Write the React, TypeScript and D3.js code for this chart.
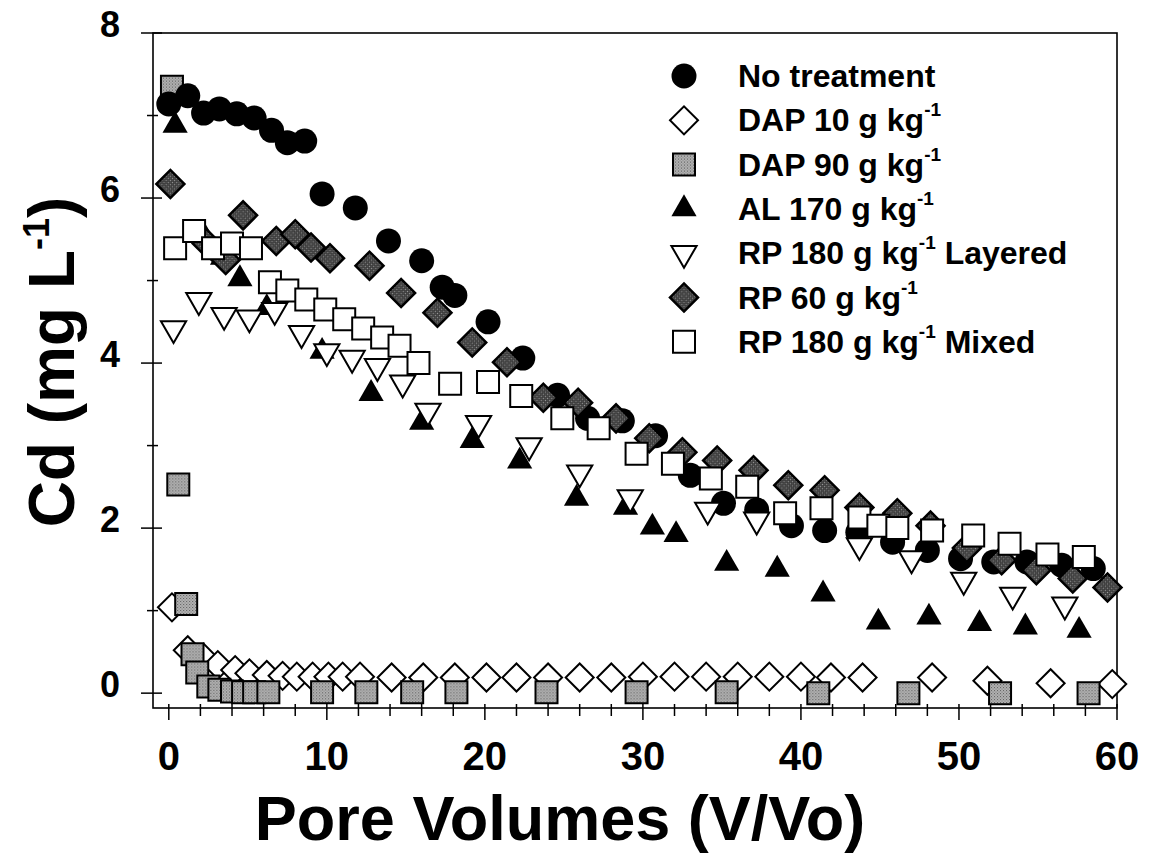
import React from 'react';
import * as d3 from 'd3';

// Cd breakthrough data (x = pore volumes, y = Cd mg/L)
const noTreatX = [0, 1.2, 2.2, 3.2, 4.3, 5.4, 6.5, 7.5, 8.6, 9.7, 11.8, 13.9, 16.0, 17.3, 18.1, 20.2, 22.4, 24.6, 26.5, 28.7, 30.8, 33.0, 35.1, 37.2, 39.4, 41.5, 43.6, 45.8, 48.0, 50.1, 52.2, 54.3, 56.5, 58.5];
const noTreatY = [7.14, 7.24, 7.03, 7.08, 7.02, 6.97, 6.82, 6.67, 6.69, 6.05, 5.88, 5.48, 5.24, 4.92, 4.82, 4.5, 4.06, 3.61, 3.33, 3.3, 3.12, 2.64, 2.3, 2.22, 2.03, 1.97, 1.95, 1.83, 1.73, 1.63, 1.59, 1.59, 1.55, 1.51];

const dap10X = [0.2, 1.2, 2.2, 3.1, 4.2, 5.1, 6.2, 7.2, 8.1, 9.1, 10.1, 11.0, 12.1, 14.1, 16.1, 18.1, 20.1, 22.0, 24.0, 26.0, 28.0, 30.0, 32.0, 34.0, 36.0, 38.0, 40.0, 41.9, 43.9, 48.3, 51.8, 55.8, 59.7];
const dap10Y = [1.04, 0.52, 0.43, 0.34, 0.28, 0.24, 0.22, 0.21, 0.2, 0.2, 0.2, 0.2, 0.2, 0.19, 0.19, 0.19, 0.19, 0.19, 0.19, 0.19, 0.19, 0.2, 0.2, 0.2, 0.2, 0.2, 0.2, 0.19, 0.19, 0.19, 0.15, 0.12, 0.11];

const dap90X = [0.2, 0.6, 1.1, 1.5, 1.8, 2.5, 3.2, 4.0, 4.7, 5.4, 6.3, 9.7, 12.5, 15.4, 18.2, 23.9, 29.6, 35.3, 41.1, 46.8, 52.6, 58.2];
const dap90Y = [7.35, 2.53, 1.08, 0.47, 0.25, 0.08, 0.04, 0.02, 0.01, 0.01, 0.01, 0.01, 0.01, 0.01, 0.01, 0.01, 0.01, 0.01, 0.0, 0.0, 0.0, 0.0];

const al170X = [0.4, 2.2, 3.4, 4.5, 6.2, 9.7, 12.8, 16.0, 19.2, 22.2, 25.8, 28.9, 30.6, 32.1, 35.3, 38.5, 41.4, 44.9, 48.1, 51.3, 54.2, 57.6];
const al170Y = [6.88, 5.55, 5.28, 5.02, 4.67, 4.14, 3.63, 3.28, 3.06, 2.81, 2.36, 2.25, 2.01, 1.92, 1.57, 1.5, 1.2, 0.86, 0.92, 0.84, 0.8, 0.76];

const layeredX = [0.3, 1.9, 3.5, 5.1, 6.7, 8.4, 10.0, 11.6, 13.2, 14.8, 16.4, 19.6, 22.8, 26.0, 29.2, 34.1, 37.2, 43.7, 47.0, 50.3, 53.4, 56.7];
const layeredY = [4.42, 4.76, 4.58, 4.55, 4.64, 4.36, 4.14, 4.06, 3.96, 3.76, 3.42, 3.27, 3.0, 2.67, 2.37, 2.22, 2.1, 1.79, 1.63, 1.37, 1.19, 1.07];

const rp60X = [0.1, 2.4, 3.6, 4.7, 6.8, 8.0, 9.0, 10.2, 12.7, 14.7, 17.0, 19.2, 21.4, 23.7, 25.9, 28.3, 30.4, 32.5, 34.7, 37.0, 39.2, 41.5, 43.7, 46.1, 48.2, 50.5, 52.7, 54.9, 57.2, 59.4];
const rp60Y = [6.17, 5.45, 5.25, 5.79, 5.48, 5.56, 5.4, 5.27, 5.18, 4.85, 4.61, 4.25, 4.01, 3.58, 3.52, 3.33, 3.09, 2.92, 2.82, 2.7, 2.52, 2.46, 2.25, 2.18, 2.03, 1.76, 1.61, 1.49, 1.39, 1.28];

const mixedX = [0.4, 1.6, 2.8, 4.0, 5.2, 6.4, 7.5, 8.7, 9.9, 11.1, 12.3, 13.5, 14.6, 15.8, 17.8, 20.2, 22.3, 24.9, 27.2, 29.6, 31.9, 34.3, 36.6, 39.0, 41.3, 43.7, 44.9, 46.1, 48.3, 50.9, 53.2, 55.6, 57.9];
const mixedY = [5.39, 5.6, 5.39, 5.45, 5.39, 4.98, 4.88, 4.77, 4.65, 4.53, 4.42, 4.31, 4.21, 4.0, 3.75, 3.77, 3.6, 3.33, 3.21, 2.9, 2.78, 2.6, 2.5, 2.18, 2.24, 2.13, 2.03, 2.0, 1.97, 1.91, 1.81, 1.68, 1.65];

const xTickValues = d3.range(0, 61, 2);
const xTickLabels = [0, 10, 20, 30, 40, 50, 60];
const yTickValues = d3.range(0, 9, 1);
const yTickLabels = [0, 2, 4, 6, 8];

const legendNames = ['No treatment', 'DAP 10 g kg', 'DAP 90 g kg', 'AL 170 g kg', 'RP 180 g kg', 'RP 60 g kg', 'RP 180 g kg'];
const legendTails = ['', '', '', '', ' Layered', '', ' Mixed'];
const legendSup = [false, true, true, true, true, true, true];

const FONT = '"Liberation Sans", Arial, Helvetica, sans-serif';

type Shape = 'circle' | 'diamond' | 'square' | 'triUp' | 'triDown';

const markerPath = (shape: Shape) => {
  if (shape === 'circle') return d3.symbol().type(d3.symbolCircle).size(Math.PI * 12.5 * 12.5)();
  if (shape === 'square') return d3.symbol().type(d3.symbolSquare).size(22 * 22)();
  if (shape === 'diamond') return d3.symbol().type(d3.symbolSquare).size(19.8 * 19.8)();
  return d3.symbol().type(d3.symbolTriangle).size(275)();
};

const rotFor = (shape: Shape) => (shape === 'diamond' ? 45 : shape === 'triDown' ? 180 : 0);

const series = [
  { name: 'dap10', xs: dap10X, ys: dap10Y, shape: 'diamond' as Shape, fill: '#fff', stroke: '#000', sw: 2 },
  { name: 'dap90', xs: dap90X, ys: dap90Y, shape: 'square' as Shape, fill: 'url(#gray-light)', stroke: '#000', sw: 2 },
  { name: 'none', xs: noTreatX, ys: noTreatY, shape: 'circle' as Shape, fill: '#000', stroke: 'none', sw: 0 },
  { name: 'al170', xs: al170X, ys: al170Y, shape: 'triUp' as Shape, fill: '#000', stroke: 'none', sw: 0 },
  { name: 'layered', xs: layeredX, ys: layeredY, shape: 'triDown' as Shape, fill: '#fff', stroke: '#000', sw: 2 },
  { name: 'rp60', xs: rp60X, ys: rp60Y, shape: 'diamond' as Shape, fill: 'url(#gray-dark)', stroke: '#000', sw: 2.5 },
  { name: 'mixed', xs: mixedX, ys: mixedY, shape: 'square' as Shape, fill: '#fff', stroke: '#000', sw: 2 },
];

// legend order differs from draw order
const legendOrder = ['none', 'dap10', 'dap90', 'al170', 'layered', 'rp60', 'mixed'];

export default function App() {
  const width = 1152;
  const height = 857;
  const left = 153, right = 1117, top = 33, bottom = 708;

  const x = d3.scaleLinear().domain([-1, 60]).range([left, right]);
  const y = d3.scaleLinear().domain([-0.18, 8]).range([bottom, top]);

  const legendX = 684;
  const legendY0 = 76;
  const legendStep = 44.3;

  return (
    <svg width={width} height={height} style={{ position: 'absolute', left: 0, top: 0, background: '#fff' }}>
      <defs>
        <pattern id="gray-light" width="3" height="3" patternUnits="userSpaceOnUse">
          <rect width="3" height="3" fill="#b4b4b4" />
          <rect x="0" y="0" width="1" height="1" fill="#555" />
          <rect x="1.5" y="1.5" width="1" height="1" fill="#666" />
        </pattern>
        <pattern id="gray-dark" width="3" height="3" patternUnits="userSpaceOnUse">
          <rect width="3" height="3" fill="#3a3a3a" />
          <rect x="0" y="0" width="1" height="1" fill="#9a9a9a" />
          <rect x="1.5" y="1.5" width="1" height="1" fill="#777" />
        </pattern>
      </defs>
      <rect width={width} height={height} fill="#fff" />

      {/* frame */}
      <rect x={left} y={top} width={right - left} height={bottom - top} fill="none" stroke="#000" strokeWidth={1.6} />

      {/* x ticks */}
      {xTickValues.map((v) => (
        <line key={'xt' + v} x1={x(v)} x2={x(v)} y1={bottom - 4} y2={bottom + (v % 10 === 0 ? 12 : 8)} stroke="#000" strokeWidth={1.5} />
      ))}
      {xTickLabels.map((v) => (
        <text key={'xl' + v} x={x(v)} y={770} textAnchor="middle" fontFamily={FONT} fontWeight="bold" fontSize={40}>
          {v}
        </text>
      ))}

      {/* y ticks */}
      {yTickValues.map((v) => (
        <line key={'yt' + v} x1={left - (v % 2 === 0 ? 12 : 6)} x2={left + (v % 2 === 0 ? 9 : 5)} y1={y(v)} y2={y(v)} stroke="#000" strokeWidth={1.5} />
      ))}
      {yTickLabels.map((v) => (
        <text key={'yl' + v} x={120} y={y(v) + 4} textAnchor="end" fontFamily={FONT} fontWeight="bold" fontSize={36}>
          {v}
        </text>
      ))}

      {/* axis titles */}
      <text x={560} y={840} textAnchor="middle" fontFamily={FONT} fontWeight="bold" fontSize={63}>
        Pore Volumes (V/Vo)
      </text>
      <text transform="translate(74,362) rotate(-90)" textAnchor="middle" fontFamily={FONT} fontWeight="bold" fontSize={64}>
        Cd (mg L<tspan fontSize={36} dy={-25}>-1</tspan><tspan dy={25}>)</tspan>
      </text>

      {/* data */}
      {series.map((s) => (
        <g key={s.name}>
          {s.xs.map((xv, i) => (
            <path
              key={i}
              d={markerPath(s.shape) || ''}
              transform={`translate(${x(xv)},${y(s.ys[i])}) rotate(${rotFor(s.shape)})`}
              fill={s.fill}
              stroke={s.stroke}
              strokeWidth={s.sw}
            />
          ))}
        </g>
      ))}

      {/* legend */}
      {legendOrder.map((key, i) => {
        const s = series.find((d) => d.name === key)!;
        const cy = legendY0 + i * legendStep;
        return (
          <g key={'lg' + key}>
            <path
              d={markerPath(s.shape) || ''}
              transform={`translate(${legendX},${cy}) rotate(${rotFor(s.shape)})`}
              fill={s.fill}
              stroke={s.stroke}
              strokeWidth={s.sw}
            />
            <text x={738} y={cy + 11} fontFamily={FONT} fontWeight="bold" fontSize={32}>
              {legendNames[i]}
              {legendSup[i] && <tspan fontSize={19} dy={-15}>-1</tspan>}
              {legendSup[i] && <tspan dy={15}>{legendTails[i]}</tspan>}
            </text>
          </g>
        );
      })}
    </svg>
  );
}
